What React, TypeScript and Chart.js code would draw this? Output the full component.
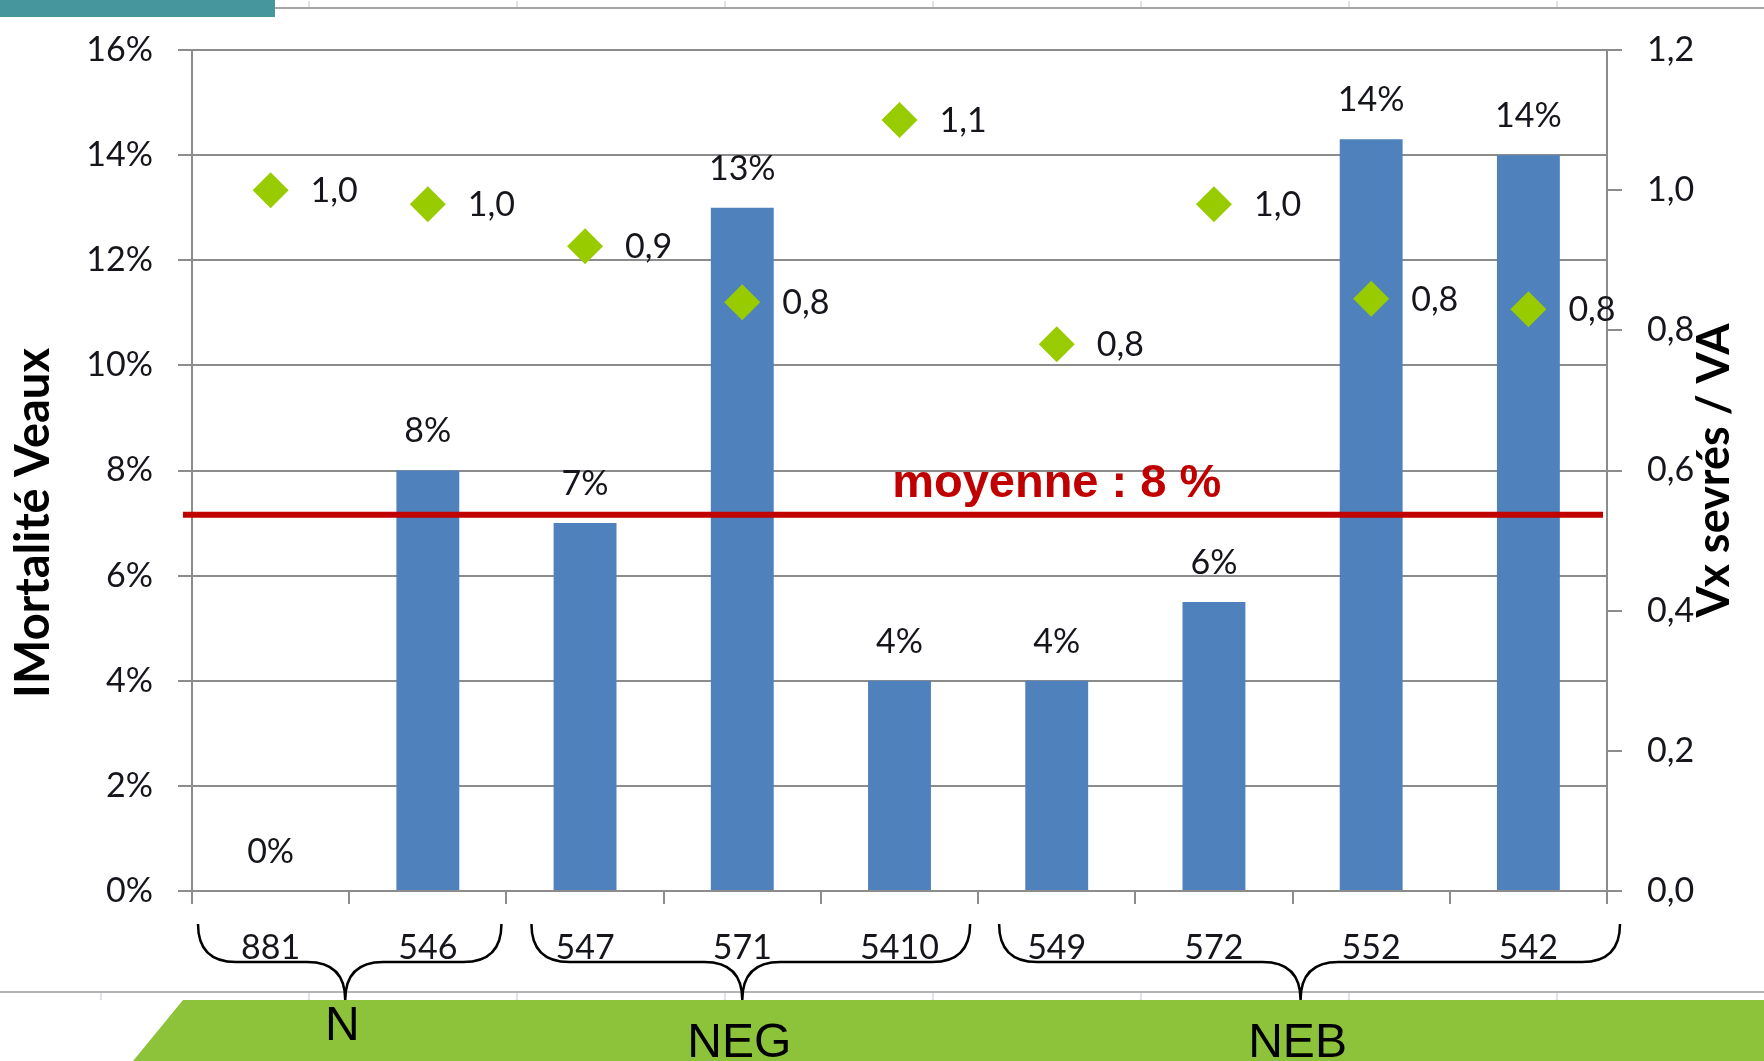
import React, { useEffect, useRef } from 'react';
import { Chart, registerables } from 'chart.js';

Chart.register(...registerables);

// ---- data ----
const categories = ['881', '546', '547', '571', '5410', '549', '572', '552', '542'];
const mortality = [0, 8.0, 7.0, 13.0, 4.0, 4.0, 5.5, 14.3, 14.0];
const weanedPerCow = [1.0, 0.98, 0.92, 0.84, 1.1, 0.78, 0.98, 0.845, 0.83];
const meanValue = 7.16;
const meanLabel = 'moyenne : 8 %';
const leftTitle = 'IMortalité Veaux';
const rightTitle = 'Vx sevrés / VA';
const groupLabels = ['N', 'NEG', 'NEB'];
const groupFrom = [0, 2, 5];
const groupTo = [1, 4, 8];

// ---- styles ----
const W = 1764;
const H = 1061;
const GRID = '#8c8c8c';
const TXT = '#15151c';
const BAR = '#4F81BD';
const DIAMOND = '#99CC00';
const RED = '#C00000';
const GREEN = '#8CC33A';
const TEAL = '#45979D';
const FONT = 'Lato';
const FS = 34;
// brace geometry offsets (px) relative to category edges
const braceLeftOff = [6, 25, 21];
const braceRightOff = [-5, -8, 13];

const decorPlugin = {
  id: 'decor',
  afterDatasetsDraw(chart: any) {
    const ctx = chart.ctx;
    const ca = chart.chartArea;
    const y = chart.scales.y;
    const x = chart.scales.x;
    ctx.save();
    // bar labels
    ctx.font = `${FS}px ${FONT}`;
    ctx.fillStyle = TXT;
    ctx.textAlign = 'center';
    ctx.textBaseline = 'middle';
    const barMeta = chart.getDatasetMeta(0);
    barMeta.data.forEach((el: any, i: number) => {
      ctx.fillText(Math.round(mortality[i]) + '%', el.x, el.y - 39);
    });
    // diamond labels
    ctx.textAlign = 'left';
    const ptMeta = chart.getDatasetMeta(1);
    ptMeta.data.forEach((el: any, i: number) => {
      ctx.fillText(weanedPerCow[i].toFixed(1).replace('.', ','), el.x + 40, el.y + 1);
    });
    // mean line
    const my = y.getPixelForValue(meanValue);
    ctx.strokeStyle = RED;
    ctx.lineWidth = 6;
    ctx.beginPath();
    ctx.moveTo(ca.left - 9, my);
    ctx.lineTo(ca.right - 4, my);
    ctx.stroke();
    ctx.font = `bold 47px "Liberation Sans", Arial, sans-serif`;
    ctx.fillStyle = RED;
    ctx.textAlign = 'center';
    ctx.textBaseline = 'alphabetic';
    ctx.fillText(meanLabel, x.getPixelForValue(5), my - 18);
    ctx.restore();
  },
  afterDraw(chart: any) {
    const ctx = chart.ctx;
    const ca = chart.chartArea;
    const x = chart.scales.x;
    const step = x.getPixelForValue(1) - x.getPixelForValue(0);
    const edge = (i: number) => x.getPixelForValue(0) - step / 2 + i * step;
    ctx.save();
    // top teal bar and slide line
    ctx.fillStyle = TEAL;
    ctx.fillRect(0, 0, 275, 17);
    ctx.strokeStyle = '#a6a6a6';
    ctx.lineWidth = 2;
    ctx.beginPath();
    ctx.moveTo(275, 8);
    ctx.lineTo(W, 8);
    ctx.stroke();
    ctx.strokeStyle = '#d3dae3';
    ctx.lineWidth = 1.5;
    for (let tx = 309; tx < W; tx += 208) {
      ctx.beginPath();
      ctx.moveTo(tx, 1);
      ctx.lineTo(tx, 7);
      ctx.stroke();
    }
    // bottom slide line
    ctx.strokeStyle = '#b4b4b4';
    ctx.lineWidth = 2;
    ctx.beginPath();
    ctx.moveTo(0, 992);
    ctx.lineTo(W, 992);
    ctx.stroke();
    ctx.strokeStyle = '#d3dae3';
    ctx.lineWidth = 1.5;
    for (let tx = 101; tx < W; tx += 208) {
      ctx.beginPath();
      ctx.moveTo(tx, 993);
      ctx.lineTo(tx, 1000);
      ctx.stroke();
    }
    // green band
    ctx.fillStyle = GREEN;
    ctx.beginPath();
    ctx.moveTo(183, 1000);
    ctx.lineTo(W, 1000);
    ctx.lineTo(W, H);
    ctx.lineTo(133, H);
    ctx.closePath();
    ctx.fill();
    // braces
    const yTop = 924;
    const yMid = 962;
    const yTip = 1000;
    const r = 38;
    ctx.strokeStyle = '#000';
    ctx.lineWidth = 2.5;
    groupLabels.forEach((lab, g) => {
      const x1 = edge(groupFrom[g]) + braceLeftOff[g];
      const x2 = edge(groupTo[g] + 1) + braceRightOff[g];
      const span = groupTo[g] - groupFrom[g] + 1;
      let tip = edge(groupFrom[g]) + (span * step) / 2;
      if (g === 0) tip -= 4;
      if (g === 2) tip += 8;
      ctx.beginPath();
      ctx.moveTo(x1, yTop);
      ctx.quadraticCurveTo(x1, yMid, x1 + r, yMid);
      ctx.lineTo(tip - r, yMid);
      ctx.quadraticCurveTo(tip, yMid, tip, yTip);
      ctx.moveTo(tip, yTip);
      ctx.quadraticCurveTo(tip, yMid, tip + r, yMid);
      ctx.lineTo(x2 - r, yMid);
      ctx.quadraticCurveTo(x2, yMid, x2, yTop);
      ctx.stroke();
      // group label
      ctx.font = `48px "Liberation Sans Narrow", "Liberation Sans", sans-serif`;
      ctx.fillStyle = '#000';
      ctx.textAlign = 'center';
      ctx.textBaseline = 'alphabetic';
      const ly = g === 0 ? 1040 : 1057;
      ctx.fillText(lab, tip - 3, ly);
    });
    // axis titles
    ctx.fillStyle = '#000';
    ctx.textAlign = 'center';
    ctx.textBaseline = 'middle';
    ctx.font = `bold 47px ${FONT}`;
    ctx.save();
    ctx.translate(34, 523);
    ctx.rotate(-Math.PI / 2);
    ctx.fillText(leftTitle, 0, 0);
    ctx.restore();
    ctx.font = `bold 45px ${FONT}`;
    ctx.save();
    ctx.translate(1714, (ca.top + ca.bottom) / 2);
    ctx.rotate(-Math.PI / 2);
    ctx.fillText(rightTitle, 0, 0);
    ctx.restore();
    ctx.restore();
  },
};

export default function App() {
  const ref = useRef<HTMLCanvasElement | null>(null);
  useEffect(() => {
    if (!ref.current) return;
    const tickFont = { family: FONT, size: FS };
    const chart = new Chart(ref.current, {
      type: 'bar',
      data: {
        labels: categories,
        datasets: [
          {
            type: 'bar',
            data: mortality,
            backgroundColor: BAR,
            barPercentage: 0.4,
            categoryPercentage: 1.0,
            yAxisID: 'y',
            order: 1,
          } as any,
          {
            type: 'line',
            data: weanedPerCow,
            showLine: false,
            pointStyle: 'rectRot',
            pointRadius: 18,
            pointBackgroundColor: DIAMOND,
            pointBorderColor: DIAMOND,
            pointBorderWidth: 0,
            borderColor: DIAMOND,
            backgroundColor: DIAMOND,
            yAxisID: 'y1',
            order: 0,
          } as any,
        ],
      },
      options: {
        responsive: false,
        animation: false,
        devicePixelRatio: 1,
        layout: { padding: { top: 50, left: 0, right: 0, bottom: 0 } },
        plugins: { legend: { display: false }, tooltip: { enabled: false } },
        scales: {
          x: {
            type: 'category',
            offset: true,
            grid: { offset: true, drawOnChartArea: false, color: GRID, lineWidth: 2, tickLength: 13 },
            border: { color: GRID, width: 2 },
            ticks: { font: tickFont, color: TXT, padding: 24, maxRotation: 0, autoSkip: false },
            afterFit: (s: any) => {
              s.height = 170;
            },
          },
          y: {
            position: 'left',
            min: 0,
            max: 16,
            ticks: { stepSize: 2, font: tickFont, color: TXT, padding: 25, callback: (v: any) => v + '%' },
            grid: { color: GRID, lineWidth: 2, tickLength: 14 },
            border: { color: GRID, width: 2 },
            afterFit: (s: any) => {
              s.width = 192;
            },
          },
          y1: {
            position: 'right',
            min: 0,
            max: 1.2,
            ticks: {
              stepSize: 0.2,
              font: tickFont,
              color: TXT,
              padding: 25,
              callback: (v: any) => Number(v).toFixed(1).replace('.', ','),
            },
            grid: { drawOnChartArea: false, color: GRID, lineWidth: 2, tickLength: 15 },
            border: { color: GRID, width: 2 },
            afterFit: (s: any) => {
              s.width = 157;
            },
          },
        },
      } as any,
      plugins: [decorPlugin],
    });
    return () => chart.destroy();
  }, []);
  return (
    <div style={{ position: 'absolute', left: 0, top: 0, width: W, height: H, background: '#fff' }}>
      <canvas ref={ref} width={W} height={H} style={{ width: W, height: H, display: 'block' }} />
    </div>
  );
}
